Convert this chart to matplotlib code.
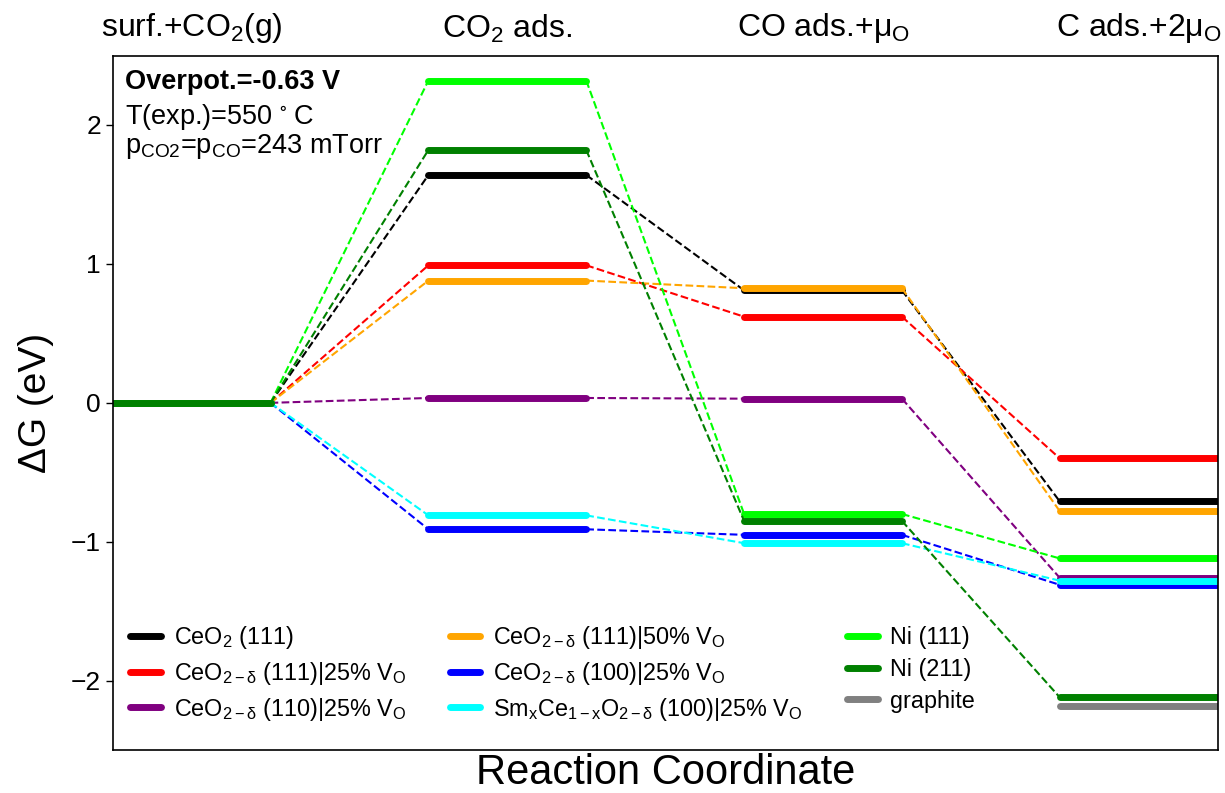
import matplotlib
matplotlib.use("Agg")
import matplotlib.pyplot as plt

plt.rcParams["font.family"] = ["Liberation Sans", "DejaVu Sans"]
plt.rcParams["mathtext.fontset"] = "custom"
plt.rcParams["mathtext.rm"] = "Liberation Sans"
plt.rcParams["mathtext.it"] = "Liberation Sans"
plt.rcParams["mathtext.bf"] = "Liberation Sans:bold"
plt.rcParams["mathtext.fallback"] = "stixsans"

# reaction steps (top axis)
steps = ["surf.+CO$_2$(g)", "CO$_2$ ads.",
         "CO ads.+μ$_\\mathrm{O}$", "C ads.+2μ$_\\mathrm{O}$"]

# free energies (eV) along the steps, None where a surface has no level
ceo2_111 = [0.0, 1.64, 0.81, -0.71]
ceo2_111_v25 = [0.0, 0.99, 0.62, -0.40]
ceo2_110_v25 = [0.0, 0.035, 0.03, -1.26]
ceo2_111_v50 = [0.0, 0.88, 0.825, -0.78]
ceo2_100_v25 = [0.0, -0.91, -0.95, -1.31]
smceo2_100_v25 = [0.0, -0.81, -1.01, -1.28]
ni_111 = [0.0, 2.32, -0.80, -1.12]
ni_211 = [0.0, 1.82, -0.85, -2.12]
graphite = [None, None, None, -2.18]

labels = [
    "CeO$_2$ (111)",
    "CeO$_{2-\\delta}$ (111)|25% V$_\\mathrm{O}$",
    "CeO$_{2-\\delta}$ (110)|25% V$_\\mathrm{O}$",
    "CeO$_{2-\\delta}$ (111)|50% V$_\\mathrm{O}$",
    "CeO$_{2-\\delta}$ (100)|25% V$_\\mathrm{O}$",
    "Sm$_\\mathrm{x}$Ce$_{1-\\mathrm{x}}$O$_{2-\\delta}$ (100)|25% V$_\\mathrm{O}$",
    "Ni (111)",
    "Ni (211)",
    "graphite",
]
colors = ["black", "red", "purple", "orange", "blue", "cyan",
          "lime", "green", "gray"]
energies = [ceo2_111, ceo2_111_v25, ceo2_110_v25, ceo2_111_v50,
            ceo2_100_v25, smceo2_100_v25, ni_111, ni_211, graphite]

width = 0.5  # length of a level on the x axis (steps are 1 apart)

fig, ax = plt.subplots(figsize=(12.25, 7.93), dpi=100)
fig.subplots_adjust(left=0.092, right=0.994, top=0.930, bottom=0.054)

for lab, col, lev in zip(labels, colors, energies):
    pts = [(i, e) for i, e in enumerate(lev) if e is not None]
    # dashed connectors between neighbouring levels
    for (i0, e0), (i1, e1) in zip(pts[:-1], pts[1:]):
        ax.plot([i0 + width, i1], [e0, e1], "--", color=col, lw=1.5)
    for k, (i, e) in enumerate(pts):
        ax.plot([i, i + width], [e, e], color=col, lw=5,
                solid_capstyle="round", label=lab if k == 0 else None)

ax.set_xlim(0, 3.5)
ax.set_ylim(-2.5, 2.5)
ax.set_yticks([-2, -1, 0, 1, 2])
ax.set_xticks([i + width / 2 for i in range(len(steps))])
ax.set_xticklabels(steps, fontsize=23)
ax.tick_params(axis="x", bottom=False, top=False, labelbottom=False,
               labeltop=True, pad=4)
ax.tick_params(axis="y", labelsize=19, length=5, width=1)
for sp in ax.spines.values():
    sp.set_linewidth(1.2)

ax.set_xlabel("Reaction Coordinate", fontsize=30, labelpad=2)
ax.set_ylabel("ΔG (eV)", fontsize=28, labelpad=12)

ax.text(0.011, 0.9525, "Overpot.=-0.63 V", transform=ax.transAxes,
        fontsize=19.5, fontweight="bold", va="baseline")
ax.text(0.011, 0.902, "T(exp.)=550$\\,^\\circ\\,$C", transform=ax.transAxes,
        fontsize=19.5, va="baseline")
ax.text(0.011, 0.860, "p$_\\mathrm{CO2}$=p$_\\mathrm{CO}$=243 mTorr",
        transform=ax.transAxes, fontsize=19.5, va="baseline")

ax.legend(ncol=3, loc="upper left", bbox_to_anchor=(-0.003, 0.212),
          frameon=False, fontsize=16.8, handlelength=1.3,
          handletextpad=0.55, columnspacing=1.9, labelspacing=0.38)

fig.savefig("out.png", dpi=100)
